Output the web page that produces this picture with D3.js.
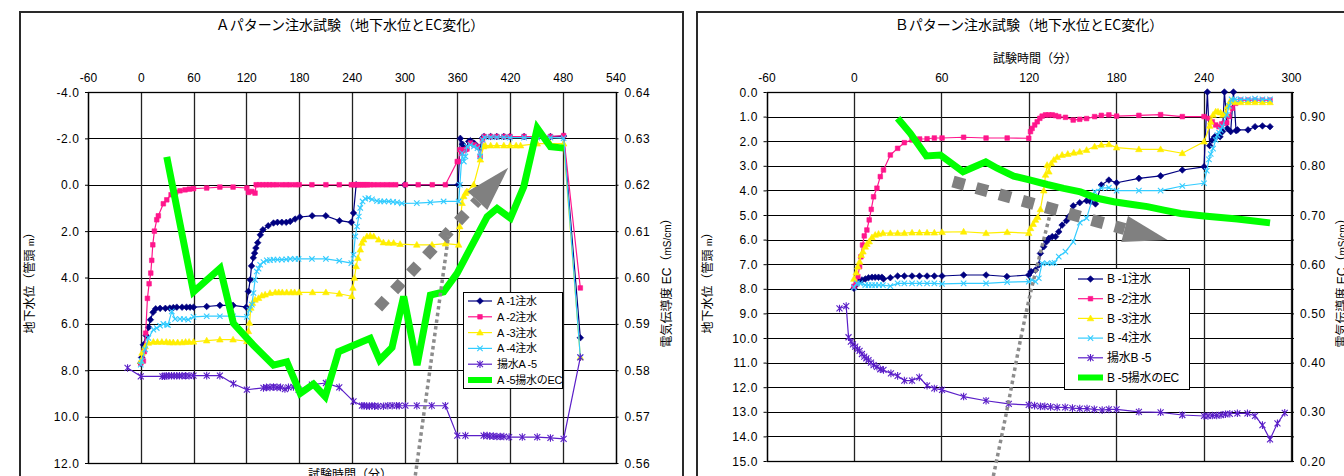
<!DOCTYPE html>
<html>
<head>
<meta charset="utf-8">
<script src="https://cdn.jsdelivr.net/npm/d3@7"></script>
<style>
  html, body { margin: 0; padding: 0; background: #fff; }
  svg { display: block; }
  text { font-family: "Liberation Sans", "Noto Sans CJK JP", sans-serif; fill: #000; }
</style>
</head>
<body>
<svg id="chart" width="1344" height="476"></svg>
<script>
// ===================== Pattern A =====================
const aTimeTicks  = [-60, 0, 60, 120, 180, 240, 300, 360, 420, 480, 540];
const aLevelTicks = [-4, -2, 0, 2, 4, 6, 8, 10, 12];
const aEcTicks    = [0.56, 0.57, 0.58, 0.59, 0.60, 0.61, 0.62, 0.63, 0.64];
const aNames = ["A -1注水", "A -2注水", "A -3注水", "A -4注水", "揚水A -5", "A -5揚水のEC"];

// [time (min), water level below casing top (m)]
const aWell1 = [[0,7.7],[1,7.45],[3,6.9],[6,6.5],[9,6.15],[11,5.82],[14,5.5],[17,5.35],[22,5.33],[28,5.33],[33,5.32],[37,5.3],[41,5.28],[47,5.28],[52,5.28],[56,5.28],[60,5.28],[75,5.25],[90,5.2],[105,5.2],[120,5.28],[122.5,4.6],[124.5,4.1],[126,3.5],[128,3.15],[129.5,2.95],[131,2.73],[133,2.5],[136,2.16],[139,1.94],[145,1.77],[151,1.65],[155.5,1.62],[160.5,1.62],[165.5,1.62],[170,1.58],[175.5,1.48],[181,1.39],[195,1.34],[210.5,1.34],[226,1.55],[239.5,1.62],[242,1.22],[245,0.0],[300,0.0],[361,0.0],[363.5,-2.0],[366,-1.75],[368,-1.65],[370,-1.54],[373,-1.87],[375,-1.9],[379,-1.8],[383,-1.65],[386,-1.58],[388.5,-2.01],[390.5,-2.08],[398,-2.08],[405,-2.08],[413,-2.08],[420,-2.08],[436,-2.08],[451,-2.08],[466,-2.08],[481,-2.1],[500,6.6]];
const aWell2 = [[0,7.7],[3,7.6],[4,7.2],[5.6,6.4],[7.6,4.9],[9.5,4.27],[11.4,3.81],[12.5,3.26],[13.7,2.59],[15.5,2.0],[18.2,1.51],[20,1.34],[25.7,0.82],[29.6,0.65],[34.5,0.43],[39.8,0.33],[44.7,0.26],[50.4,0.22],[55.3,0.19],[60,0.17],[75,0.14],[90,0.1],[105,0.1],[120.7,0.14],[122.5,0.33],[126.4,0.29],[130,0.36],[131.3,0.0],[135,0.0],[138.9,0.0],[142.7,0.0],[146.4,0.0],[150.3,0.0],[154.8,0.0],[160.5,0.0],[165.4,0.0],[170,0.0],[175.6,0.0],[180.2,0.0],[194.7,0.0],[210.6,0.0],[225.8,0.0],[239.5,0.0],[242,0.0],[244,0.0],[246,0.0],[248,0.0],[250,0.0],[252,0.0],[254,0.0],[256,0.0],[258,0.0],[261,0.0],[265,0.0],[270,0.0],[275,0.0],[280,0.0],[285,0.0],[290,0.0],[301,0.0],[315.6,0.0],[331.6,0.0],[346.5,0.0],[360,-1.0],[361.5,-1.0],[363,-1.51],[365,-1.37],[367,-1.5],[369,-1.51],[371,-1.54],[375,-1.8],[379,-1.72],[383,-1.65],[386,-1.22],[388.7,-1.94],[390.6,-2.08],[398,-2.08],[405,-2.08],[413,-2.08],[420,-2.08],[436,-2.08],[451,-2.08],[466,-2.08],[481,-2.12],[500,4.45]];
const aWell3 = [[0,7.6],[1.5,7.25],[5,6.97],[8.7,6.82],[14.4,6.78],[19,6.78],[24,6.78],[29,6.78],[33,6.8],[37,6.8],[42,6.8],[47,6.8],[51,6.78],[55,6.78],[60,6.77],[75,6.72],[90,6.68],[105,6.68],[120.7,6.75],[122.5,6.32],[123.7,5.96],[125.2,5.31],[127,5.1],[130,4.96],[134,4.89],[137.7,4.78],[141.5,4.74],[147,4.67],[153,4.64],[157,4.64],[161,4.64],[166,4.64],[171,4.64],[175,4.64],[180,4.64],[195.4,4.64],[210.6,4.64],[225.8,4.7],[240,4.81],[241.3,4.45],[243,4.02],[245,3.52],[247,3.16],[249.7,2.8],[251.6,2.51],[253.5,2.37],[257.3,2.23],[261,2.2],[265,2.23],[270.6,2.37],[276,2.49],[282,2.51],[287.6,2.51],[295,2.56],[314,2.59],[331.3,2.59],[346.5,2.54],[361.6,2.59],[362.8,1.8],[365.5,0.79],[367.4,0.5],[369.3,0.36],[371,0.29],[378.7,0.0],[386.3,-1.08],[390,-1.65],[392,-1.69],[398,-1.69],[405,-1.69],[413,-1.69],[420,-1.69],[427,-1.69],[432,-1.69],[451,-1.77],[466,-1.77],[481,-1.77],[500,7.44]];
const aWell4 = [[0,7.76],[1,7.6],[5,7.1],[8.7,6.61],[14.4,6.25],[18.2,6.18],[22,6.08],[25.7,6.0],[29.6,6.03],[31,6.05],[35.3,5.46],[39,5.79],[44.7,5.79],[49,5.79],[54,5.82],[60,5.7],[75,5.67],[90,5.67],[105,5.67],[120.7,5.7],[123.7,5.39],[126.4,5.17],[128.2,4.67],[130,4.1],[132,3.74],[134,3.62],[135.8,3.45],[139.6,3.33],[143.4,3.26],[147,3.25],[151,3.23],[155.5,3.23],[160.5,3.23],[165.5,3.22],[170,3.2],[175.5,3.2],[179.5,3.2],[194.7,3.2],[210.6,3.2],[225.8,3.28],[239.5,3.38],[242,3.02],[244,2.23],[246,1.8],[248,1.37],[249.7,1.0],[252.3,0.72],[255.4,0.6],[259,0.57],[263,0.63],[268.7,0.7],[272.5,0.72],[277,0.72],[282,0.72],[287,0.74],[291.5,0.76],[297,0.8],[314,0.79],[329.4,0.76],[344.5,0.72],[361.6,0.72],[363,0.0],[365.5,-1.37],[367.5,-1.0],[369.3,-1.22],[371,-1.65],[375,-1.72],[379,-1.65],[383,-1.58],[386,-1.22],[388.7,-1.94],[391,-2.05],[398,-2.05],[405,-2.05],[413,-2.05],[420,-2.03],[436,-2.03],[451,-2.03],[466,-2.03],[481,-2.01],[500,7.44]];
const aPumped = [[-15,7.9],[0,8.26],[24.6,8.26],[27,8.26],[29,8.24],[32,8.24],[35,8.24],[38,8.24],[41,8.24],[44,8.24],[47,8.24],[51,8.24],[55,8.24],[60,8.23],[75,8.23],[90,8.23],[105.4,8.58],[120.7,8.84],[139.6,8.76],[143,8.74],[147,8.74],[151,8.72],[155,8.74],[159,8.74],[164,8.81],[168,8.74],[173.7,8.72],[179.5,8.84],[194.7,8.62],[210.6,8.55],[225.8,8.74],[242,9.34],[251.6,9.53],[254,9.53],[257,9.55],[260,9.55],[263,9.53],[266,9.55],[270,9.55],[276,9.55],[281,9.53],[286,9.53],[291,9.53],[294,9.53],[301,9.53],[314,9.53],[331,9.53],[346.5,9.53],[360,10.82],[369.3,10.82],[390,10.82],[394,10.82],[397,10.84],[401,10.84],[405,10.86],[409,10.86],[413,10.86],[419,10.88],[434,10.88],[451,10.88],[466,10.92],[481,10.96],[500,7.44]];
// [time (min), EC (mS/cm)]
const aEc = [[29.6,0.626],[60,0.5969],[90.3,0.602],[105.4,0.5901],[128.2,0.5854],[151,0.5811],[166.2,0.5818],[181.4,0.575],[196.5,0.577],[209.8,0.5743],[225,0.584],[261,0.5869],[271.7,0.5822],[285.8,0.5849],[299,0.5959],[314.3,0.5811],[329.4,0.5962],[344.5,0.5969],[359.8,0.6009],[394,0.6131],[405.3,0.6149],[420.5,0.6128],[435.7,0.6196],[451,0.6322],[466,0.6282],[481,0.6279]];
// trend annotations, in [time, level] units
const aTrendArrow = [[270,5.3],[383,0.69],[418,-0.73]];
const aGuideLine  = [[312.3,12.54],[350,2.2]];

// ===================== Pattern B =====================
const bTimeTicks  = [-60, 0, 60, 120, 180, 240, 300];
const bLevelTicks = [0,1,2,3,4,5,6,7,8,9,10,11,12,13,14,15];
const bEcTicks    = [0.20,0.25,0.30,0.35,0.40,0.45,0.50,0.55,0.60,0.65,0.70,0.75,0.80,0.85,0.90,0.95];
const bNames = ["B -1注水", "B -2注水", "B -3注水", "B -4注水", "揚水B -5", "B -5揚水のEC"];

const bWell1 = [[0,7.98],[1.4,7.85],[3.2,7.71],[5.5,7.64],[7.8,7.6],[10,7.55],[12.4,7.53],[14.6,7.53],[16.9,7.53],[19.2,7.53],[20.3,7.6],[25,7.55],[30,7.48],[34.6,7.48],[39.9,7.48],[45,7.48],[50.2,7.48],[55.2,7.48],[60.5,7.48],[75.3,7.44],[90.7,7.44],[105,7.5],[120,7.44],[121.6,7.3],[124.6,7.24],[126.9,7.03],[128,6.56],[130.3,6.29],[132.2,6.09],[133.8,5.95],[136.1,5.88],[138.4,5.88],[140.6,5.68],[142.9,5.41],[145.9,5.23],[147.5,5.07],[150.5,4.63],[155,4.5],[159.7,4.42],[162.4,4.46],[165.8,4.55],[169.8,3.78],[175,3.58],[180.3,3.69],[195.6,3.51],[210.5,3.41],[225.4,3.17],[240.3,3.04],[242.6,0.0],[244.2,2.18],[246,1.95],[247.6,1.82],[249.5,1.79],[251.3,1.82],[253,1.61],[254.3,0.0],[256.3,1.48],[258.6,1.61],[260.5,0.0],[262.3,1.57],[263.3,1.54],[270.5,1.54],[275.3,1.41],[280.4,1.38],[285.6,1.41]];
const bWell2 = [[0,7.9],[1.6,7.78],[2.7,7.5],[3.9,7.1],[4.8,6.7],[5.9,6.22],[7.1,5.85],[8.9,5.61],[10.5,5.2],[11.9,4.77],[13.5,4.26],[15.8,3.91],[18.1,3.44],[20.3,3.17],[25,2.56],[30,2.29],[34.6,2.06],[39.9,1.95],[45.1,1.91],[50.2,1.9],[55.2,1.87],[60.5,1.87],[75.3,1.84],[90.7,1.87],[105.2,1.87],[120,1.88],[121.2,1.61],[122.3,1.48],[124.1,1.34],[125.8,1.21],[127.6,1.07],[129.2,0.98],[131.5,0.93],[133.8,0.93],[136.1,0.93],[138.4,0.96],[140.6,1.0],[145.2,1.03],[150.5,1.14],[155,1.11],[159.7,1.08],[165.2,1.0],[169.8,0.95],[175,0.93],[180.3,0.98],[195.6,0.95],[210.5,0.92],[225.4,1.0],[240.3,1.0],[243.7,1.07],[246,1.21],[248.3,1.34],[250.6,1.41],[252.4,1.3],[254,1.27],[255.9,1.25],[257.5,1.0],[259.8,0.66],[262,0.46],[265.5,0.33],[270.5,0.33],[275.3,0.33],[280.4,0.33],[285.6,0.33]];
const bWell3 = [[0,7.6],[1.6,7.34],[2.7,7.1],[3.9,6.9],[5,6.63],[6.2,6.49],[7.8,6.29],[8.9,6.18],[10.5,6.08],[12.4,5.91],[14.6,5.81],[16.9,5.77],[19.9,5.74],[25,5.74],[30,5.74],[34.6,5.74],[39.9,5.72],[45,5.72],[50.2,5.72],[55.2,5.72],[60.5,5.7],[75.3,5.68],[90.7,5.74],[105.2,5.7],[120,5.74],[121.2,5.54],[123,5.37],[124.6,5.2],[126.2,5.09],[128,4.77],[130.3,4.01],[131.5,3.37],[132.6,2.97],[133.8,3.24],[135.4,2.9],[137.2,2.76],[139.5,2.65],[142.9,2.56],[146.8,2.52],[150.9,2.47],[155,2.43],[159.7,2.36],[165.2,2.22],[169.8,2.15],[175,2.13],[180.3,2.26],[195.6,2.33],[210.5,2.33],[225.4,2.49],[240.3,2.02],[244.2,1.38],[244.9,1.21],[246.5,0.93],[248.3,0.8],[249.9,0.8],[251.7,0.84],[253.3,0.93],[255.1,0.87],[256.3,0.6],[258.1,0.39],[259.8,0.33],[262,0.42],[265.5,0.42],[270.5,0.42],[275.3,0.42],[280.4,0.42],[285.6,0.42]];
const bWell4 = [[0,7.94],[2.1,7.78],[4.3,7.78],[7.8,7.85],[10,7.85],[12.4,7.85],[14.6,7.85],[17.2,7.85],[19.9,7.85],[25,7.89],[30,7.78],[34.6,7.78],[39.9,7.78],[45,7.78],[50.2,7.78],[55.2,7.78],[60.5,7.8],[75.3,7.78],[90.7,7.78],[105.2,7.73],[120,7.71],[122.3,7.64],[124.6,7.71],[126.9,7.57],[129.2,6.96],[132.6,6.96],[136.1,6.96],[137.7,6.94],[140.6,6.69],[145.2,6.49],[150.5,6.09],[155,5.31],[159.7,5.13],[165.2,4.05],[169.8,3.91],[175,3.89],[180.3,4.01],[195.6,4.01],[210.5,4.01],[225.4,3.82],[240.3,3.71],[242.2,3.2],[243.7,2.74],[244.9,2.52],[246.5,2.3],[248.3,1.95],[249.5,1.75],[250.6,1.65],[251.7,1.54],[252.9,1.41],[255.9,0.93],[257.5,0.57],[259.2,0.3],[261.4,0.3],[265.5,0.3],[270.5,0.3],[275.3,0.27],[280.4,0.3],[285.6,0.3]];
const bPumped = [[-9.9,8.8],[-5.3,8.7],[-3.7,9.97],[-2.1,10.15],[-0.7,10.26],[0.9,10.35],[2.4,10.45],[3.9,10.52],[5.5,10.65],[7.1,10.76],[8.5,10.83],[10,10.9],[11.7,11.0],[13.5,11.1],[15.8,11.17],[18.1,11.27],[20.3,11.3],[25.4,11.44],[30,11.54],[34.6,11.73],[39.9,11.73],[44.9,11.6],[50.2,11.94],[55.2,12.05],[60.5,12.11],[75.3,12.38],[90.7,12.55],[106.3,12.68],[120,12.72],[124,12.75],[128,12.78],[131,12.78],[135,12.8],[139.5,12.82],[145,12.82],[150,12.85],[155,12.87],[160,12.87],[165,12.9],[170.4,12.93],[175,12.9],[180.3,12.9],[195.6,13.0],[210.5,13.02],[225.4,13.13],[240.3,13.17],[243,13.17],[246,13.15],[249,13.15],[252,13.13],[255,13.1],[258,13.08],[263.2,13.06],[270.1,13.06],[275.3,13.17],[280.4,13.54],[285.6,14.12],[290.7,13.47],[295.7,13.04]];
const bEc = [[30,0.8965],[38.7,0.866],[49.7,0.82],[59.3,0.822],[74.9,0.788],[90.5,0.808],[98.3,0.795],[109.7,0.779],[121.2,0.771],[132.6,0.762],[144,0.754],[155.5,0.747],[167,0.734],[178.4,0.727],[189.9,0.722],[201.4,0.717],[212.8,0.71],[224.3,0.703],[240.3,0.698],[263.2,0.692],[285.6,0.684]];
const bTrendArrow = [[68,3.64],[185.8,5.57],[215.3,6.02]];
const bGuideLine  = [[95.7,15.61],[106,12.64],[114.3,10.08],[121.2,8.17],[128,6.54],[134.5,5.0]];

// ===================== drawing =====================
const svg = d3.select("#chart");

const seriesStyle = [
  { color: "#000080", marker: "diamond" },
  { color: "#ff168c", marker: "square" },
  { color: "#ffee00", marker: "triangle" },
  { color: "#33ccff", marker: "cross" },
  { color: "#5a1ec8", marker: "star" }
];
const ecColor = "#00ff00";
const markerPath = {
  diamond:  "M0,-3.3L3.3,0L0,3.3L-3.3,0Z",
  square:   "M-2.3,-2.3H2.3V2.3H-2.3Z",
  triangle: "M0,-3.4L3.3,2.4H-3.3Z",
  cross:    "M-2.7,-2.7L2.7,2.7M-2.7,2.7L2.7,-2.7",
  star:     "M-3,-3L3,3M-3,3L3,-3M0,-3.8V3.8"
};
const filled = m => m === "diamond" || m === "square" || m === "triangle";
const crisp = v => Math.round(v) + 0.5;

function drawMarker(sel, style) {
  sel.attr("d", markerPath[style.marker])
    .attr("fill", filled(style.marker) ? style.color : "none")
    .attr("stroke", style.color)
    .attr("stroke-width", filled(style.marker) ? 0.6 : 1.1);
}

function drawPanel(cfg) {
  const g = svg.append("g");
  const x  = d3.scaleLinear().domain(cfg.timeDomain).range([cfg.left, cfg.right]);
  const y  = d3.scaleLinear().domain(cfg.levelDomain).range([cfg.top, cfg.bottom]);
  const y2 = d3.scaleLinear().domain(cfg.ecDomain).range([cfg.bottom, cfg.top]);

  // outer frame
  g.append("rect").attr("x", cfg.frame[0]).attr("y", cfg.frame[1])
    .attr("width", cfg.frame[2]).attr("height", cfg.frame[3])
    .attr("fill", "#fff").attr("stroke", "#2a2a2a").attr("stroke-width", 2);

  // title
  g.append("text").attr("x", cfg.titleX).attr("y", 30)
    .attr("text-anchor", "middle").style("font-size", "14px")
    .style("font-family", "'Noto Sans CJK JP', sans-serif").text(cfg.title);

  // grid
  g.append("g").selectAll("line").data(cfg.levelTicks).join("line")
    .attr("x1", cfg.left).attr("x2", cfg.right)
    .attr("y1", d => crisp(y(d))).attr("y2", d => crisp(y(d)))
    .attr("stroke", "#000").attr("stroke-width", 1);
  g.append("g").selectAll("line").data(cfg.timeTicks).join("line")
    .attr("x1", d => crisp(x(d))).attr("x2", d => crisp(x(d)))
    .attr("y1", cfg.top).attr("y2", cfg.bottom)
    .attr("stroke", "#222").attr("stroke-width", 1.3);
  g.append("rect").attr("x", crisp(cfg.left)).attr("y", crisp(cfg.top))
    .attr("width", Math.round(cfg.right - cfg.left)).attr("height", Math.round(cfg.bottom - cfg.top))
    .attr("fill", "none").attr("stroke", "#000").attr("stroke-width", 1.3);

  // axes
  const top = g.append("g").attr("transform", `translate(0,${cfg.top})`)
    .call(d3.axisTop(x).tickValues(cfg.timeTicks).tickSize(0).tickPadding(10.5).tickFormat(d => String(d)));
  const left = g.append("g").attr("transform", `translate(${cfg.left},0)`)
    .call(d3.axisLeft(y).tickValues(cfg.levelTicks).tickSize(3).tickPadding(5.5).tickFormat(d => d.toFixed(1)));
  const right = g.append("g").attr("transform", `translate(${cfg.right},0)`)
    .call(d3.axisRight(y2).tickValues(cfg.ecTicks).tickSize(3).tickPadding(6)
      .tickFormat(d => Math.round(d * 100) % cfg.ecLabelEvery === 0 ? d.toFixed(2) : ""));
  [top, left, right].forEach(a => {
    a.select(".domain").remove();
    a.selectAll("line").attr("stroke", "#000");
    a.selectAll("text").style("font-size", "12px").style("font-family", "'Liberation Sans', sans-serif");
  });
  left.selectAll("text").style("letter-spacing", "0.6px").attr("dy", "0.34em");
  right.selectAll("text").style("letter-spacing", "0.6px").attr("dy", "0.34em");

  // axis titles
  const yTitle = g.append("text")
    .attr("transform", `translate(${cfg.leftTitleX},${cfg.axisTitleY}) rotate(-90)`)
    .attr("text-anchor", "middle").style("font-size", "12px");
  yTitle.append("tspan").text("地下水位（管頭 ");
  yTitle.append("tspan").style("font-size", "9px").text("m");
  yTitle.append("tspan").text("）");
  const ecTitle = g.append("text")
    .attr("transform", `translate(${cfg.rightTitleX},${cfg.axisTitleY}) rotate(-90)`)
    .attr("text-anchor", "middle").style("font-size", "12px");
  ecTitle.append("tspan").text("電気伝導度 EC（");
  ecTitle.append("tspan").style("font-size", "10px").text("mS/cm");
  ecTitle.append("tspan").text("）");
  g.append("text").attr("x", cfg.timeTitle[0]).attr("y", cfg.timeTitle[1])
    .attr("text-anchor", "middle").style("font-size", "12px").text("試験時間（分）");

  // water level series
  const line = d3.line().x(d => x(d[0])).y(d => y(d[1]));
  cfg.levels.forEach((data, i) => {
    const st = seriesStyle[i];
    g.append("path").datum(data).attr("d", line)
      .attr("fill", "none").attr("stroke", st.color).attr("stroke-width", 1.2)
      .attr("stroke-linejoin", "round");
    g.append("g").selectAll("path").data(data).join("path")
      .attr("transform", d => `translate(${x(d[0])},${y(d[1])})`)
      .call(drawMarker, st);
  });

  // EC series on the secondary axis
  const ecLine = d3.line().x(d => x(d[0])).y(d => y2(d[1]));
  g.append("path").datum(cfg.ec).attr("d", ecLine)
    .attr("fill", "none").attr("stroke", ecColor).attr("stroke-width", 7)
    .attr("stroke-linejoin", "miter").attr("stroke-miterlimit", 3);

  // legend
  const L = cfg.legend;
  const lg = g.append("g");
  lg.append("rect").attr("x", crisp(L.x)).attr("y", crisp(L.y)).attr("width", L.w).attr("height", L.h)
    .attr("fill", "#fff").attr("stroke", "#000").attr("stroke-width", 1);
  cfg.names.forEach((name, i) => {
    const ry = L.y + L.first + i * L.gap;
    const isEc = i === 5;
    lg.append("line").attr("x1", L.x + L.lineFrom).attr("x2", L.x + L.lineFrom + L.lineLen)
      .attr("y1", ry).attr("y2", ry)
      .attr("stroke", isEc ? ecColor : seriesStyle[i].color).attr("stroke-width", isEc ? 6 : 1.2);
    if (!isEc) {
      lg.append("path").attr("transform", `translate(${L.x + L.lineFrom + L.lineLen / 2},${ry})`)
        .call(drawMarker, seriesStyle[i]);
    }
    lg.append("text").attr("x", L.x + L.textX).attr("y", ry).attr("dy", "0.36em")
      .style("font-size", L.font + "px").style("letter-spacing", "-0.3px").text(name);
  });

  // trend annotations: thick dotted arrow and thin dotted guide
  const [p0, p1, pt] = cfg.arrow.map(d => [x(d[0]), y(d[1])]);
  g.append("line").attr("x1", p0[0]).attr("y1", p0[1]).attr("x2", p1[0]).attr("y2", p1[1])
    .attr("stroke", "#808080").attr("stroke-width", cfg.arrowWidth)
    .attr("stroke-dasharray", cfg.arrowDash);
  const dx = pt[0] - p1[0], dy = pt[1] - p1[1], len = Math.hypot(dx, dy);
  const nx = -dy / len * 13.5, ny = dx / len * 13.5;
  g.append("path")
    .attr("d", `M${p1[0] + nx},${p1[1] + ny}L${pt[0]},${pt[1]}L${p1[0] - nx},${p1[1] - ny}Z`)
    .attr("fill", "#808080");
  g.append("path").datum(cfg.guide).attr("d", d3.line().curve(d3.curveMonotoneY).x(d => x(d[0])).y(d => y(d[1])))
    .attr("fill", "none").attr("stroke", "#8c8c8c").attr("stroke-width", 3.5)
    .attr("stroke-dasharray", "3.5 3.2");
}

drawPanel({
  title: "Ａパターン注水試験（地下水位とEC変化）", titleX: 350,
  frame: [20, 12, 663, 480],
  left: 88, right: 615.5, top: 92, bottom: 463,
  timeDomain: [-60, 540], levelDomain: [-4, 12], ecDomain: [0.56, 0.64],
  timeTicks: aTimeTicks, levelTicks: aLevelTicks, ecTicks: aEcTicks, ecLabelEvery: 1,
  leftTitleX: 34, rightTitleX: 671, axisTitleY: 280, timeTitle: [350, 479],
  levels: [aWell1, aWell2, aWell3, aWell4, aPumped], ec: aEc, names: aNames,
  legend: { x: 463, y: 292, w: 99, h: 96, first: 9, gap: 15.8, lineFrom: 5, lineLen: 24, textX: 34, font: 11 },
  arrow: aTrendArrow, arrowWidth: 11, arrowDash: "11 12.5", guide: aGuideLine
});

drawPanel({
  title: "Ｂパターン注水試験（地下水位とEC変化）", titleX: 1029,
  frame: [697, 12, 700, 480],
  left: 766.5, right: 1291, top: 92, bottom: 461,
  timeDomain: [-60, 300], levelDomain: [0, 15], ecDomain: [0.20, 0.95],
  timeTicks: bTimeTicks, levelTicks: bLevelTicks, ecTicks: bEcTicks, ecLabelEvery: 10,
  leftTitleX: 712, rightTitleX: 1346, axisTitleY: 280, timeTitle: [1035, 63],
  levels: [bWell1, bWell2, bWell3, bWell4, bPumped], ec: bEc, names: bNames,
  legend: { x: 1064, y: 268, w: 125, h: 121, first: 11, gap: 19.7, lineFrom: 14, lineLen: 25, textX: 43, font: 12 },
  arrow: bTrendArrow, arrowWidth: 12, arrowDash: "12 12", guide: bGuideLine
});
</script>
</body>
</html>
